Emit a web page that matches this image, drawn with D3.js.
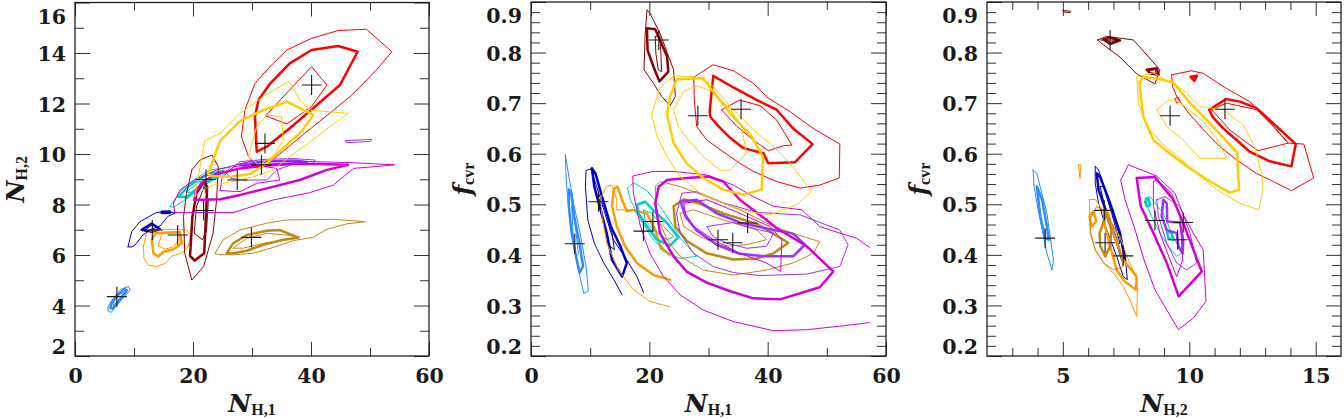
<!DOCTYPE html>
<html><head><meta charset="utf-8">
<script src="https://cdn.jsdelivr.net/npm/d3@7"></script>
<style>html,body{margin:0;padding:0;background:#fff}svg{display:block}</style>
</head><body>
<svg id="chart" width="1344" height="419"></svg>
<script>
// ---------------- DATA ----------------
const P1_X_TICKS = [0, 20, 40, 60];
const P1_X_LABELS = ["0", "20", "40", "60"];
const P1_X_MINOR = [10, 30, 50];
const P1_Y_TICKS = [2, 4, 6, 8, 10, 12, 14, 16];
const P1_Y_LABELS = ["2", "4", "6", "8", "10", "12", "14", "16"];
const P1_Y_MINOR = [3, 5, 7, 9, 11, 13, 15];
const P2_X_TICKS = [0, 20, 40, 60];
const P2_X_LABELS = ["0", "20", "40", "60"];
const P2_X_MINOR = [10, 30, 50];
const P3_X_TICKS = [5, 10, 15];
const P3_X_LABELS = ["5", "10", "15"];
const P3_X_MINOR = [3, 4, 6, 7, 8, 9, 11, 12, 13, 14];
const F_TICKS = [0.2, 0.3, 0.4, 0.5, 0.6, 0.7, 0.8, 0.9];
const F_LABELS = ["0.2", "0.3", "0.4", "0.5", "0.6", "0.7", "0.8", "0.9"];
const F_MINOR = [0.22,0.24,0.26,0.28,0.32,0.34,0.36,0.38,0.42,0.44,0.46,0.48,0.52,0.54,0.56,0.58,0.62,0.64,0.66,0.68,0.72,0.74,0.76,0.78,0.82,0.84,0.86,0.88];

const SERIES = ["lightblue","blue","orange","cyan","darkred","goldenrod","purple","magenta","red","gold"];
const COLORS = {lightblue:"#2a8cff", blue:"#0000cc", orange:"#ff9a00", cyan:"#00cccc", darkred:"#8b0000",
  red:"#ff0000", gold:"#ffcc00", magenta:"#d600d6", purple:"#9933ff", goldenrod:"#bf8a0f"};

// ---- Panel 1 : N_H,1 vs N_H,2 ----
const p1_lightblue = {
  inner: [[6.5,4.0],[7.6,4.3],[8.3,4.5],[7.5,4.45],[6.6,4.15]],
  mid: [[6.0,3.9],[6.4,3.88],[7.7,4.25],[8.8,4.6],[8.4,4.65],[7.4,4.45],[6.2,4.1]],
  outer: [[5.6,3.8],[6.1,3.72],[7.6,4.15],[9.3,4.6],[9.1,4.75],[7.8,4.65],[6.2,4.2],[5.6,3.95]]
};
const p1_blue = {
  inner: [[11.9,7.0],[13.1,7.2],[13.3,6.9]],
  mid: [[[11.3,7.0],[13.0,7.25],[14.4,7.02],[12.8,6.92]], [[14.7,7.66],[16.1,7.67],[16.1,7.72],[14.7,7.71]]],
  outer: [[8.98,6.32],[9.6,6.92],[11.0,7.32],[13.85,7.69],[17.2,7.69],[15.8,7.54],[14.4,7.15],[12.7,6.99],[11.5,6.79],[10.2,6.4],[9.7,6.32]]
};
const p1_orange = {
  inner: [[14.1,6.36],[14.7,6.83],[17.2,6.89],[17.8,6.67],[16.7,6.33],[15.3,6.23]],
  mid: [[13.0,6.6],[13.6,6.86],[15.5,6.89],[17.8,6.9],[18.1,6.46],[16.7,6.23],[15.0,6.13],[14.1,5.94],[13.3,6.07]],
  outer: [[11.6,6.33],[12.1,6.86],[13.8,6.99],[16.7,7.02],[18.9,6.99],[19.6,6.79],[19.2,6.33],[18.1,6.07],[16.4,5.96],[15.3,5.67],[13.8,5.54],[12.4,5.6],[11.7,5.87]]
};
const p1_cyan = {
  inner: [[18.9,8.51],[21.2,8.91],[23.4,9.1],[21.8,8.77],[19.8,8.42]],
  mid: [[17.5,8.31],[19.5,8.77],[22.3,9.17],[25.1,9.34],[24.0,9.08],[21.2,8.73],[18.9,8.29]],
  outer: [[16.1,7.92],[17.8,8.51],[20.1,8.97],[22.9,9.37],[26.3,9.47],[25.4,9.21],[22.9,8.91],[20.3,8.47],[18.4,8.14],[16.7,7.89]]
};
const p1_darkred = {
  inner: [[20.6,7.92],[21.9,8.71],[22.6,8.18],[22.3,6.98],[21.6,6.6],[20.2,6.86]],
  mid: [[19.5,5.97],[19.9,7.52],[20.6,8.44],[21.8,8.91],[22.4,8.71],[22.2,7.52],[21.9,6.07],[20.3,5.78]],
  outer: [[19.8,9.37],[21.2,9.76],[23.2,9.96],[24.3,9.5],[24.0,8.18],[23.4,6.86],[21.8,5.54],[19.8,5.01],[18.6,6.07],[18.4,7.52],[18.9,8.44]]
};
const p1_red = {
  inner: [[35.3,12.27],[40.1,13.46],[42.7,12.73],[40.1,11.88],[35.9,11.19],[32.3,11.51]],
  mid: [[30.5,11.48],[30.8,10.09],[32.5,10.29],[36.4,11.02],[40.7,11.88],[44.9,12.73],[47.9,14.05],[44.6,14.28],[40.1,14.12],[36.4,13.59],[33.1,12.8],[31.1,12.14]],
  outer: [[28.2,10.69],[29.4,9.9],[31.1,9.43],[34.2,9.9],[37.6,10.56],[40.7,11.15],[43.5,11.68],[46.6,12.27],[48.9,12.8],[51.1,13.33],[53.7,14.05],[49.4,14.94],[44.6,14.89],[40.1,14.58],[35.9,14.12],[32.5,13.33],[30.5,12.8],[28.8,11.74]]
};
const p1_gold = {
  inner: [[29.4,9.9],[30.8,11.08],[32.5,11.55],[35.0,11.48],[35.3,10.56],[33.6,9.9],[31.1,9.57]],
  mid: [[22.6,9.23],[24.6,10.52],[28.0,11.31],[31.9,11.74],[35.9,12.07],[40.4,11.55],[38.4,10.89],[35.3,10.23],[32.5,9.63],[29.7,9.21],[26.3,9.1],[22.9,9.13]],
  outer: [[20.3,8.31],[21.2,9.5],[22.0,10.52],[24.6,10.82],[28.0,11.61],[31.9,12.27],[36.2,12.87],[38.1,12.14],[39.8,11.74],[46.3,11.61],[43.2,11.08],[39.5,10.42],[36.4,9.9],[33.6,9.37],[30.2,9.1],[26.8,8.91],[23.4,8.77],[21.2,8.51]]
};
const p1_magenta = {
  inner: [[24.6,8.55],[28.0,8.51],[30.8,8.84],[34.7,8.97],[34.2,9.43],[30.2,9.57],[26.8,9.5],[24.9,9.04]],
  mid: [[20.2,8.18],[24.6,8.21],[28.0,8.38],[32.5,8.64],[38.1,8.97],[42.7,9.37],[46.3,9.57],[41.5,9.6],[37.0,9.6],[31.9,9.53],[28.0,9.43],[24.0,9.21],[21.5,8.87],[20.5,8.51]],
  outer: [[16.9,7.68],[26.8,7.68],[33.6,8.18],[39.8,8.47],[43.8,8.77],[47.2,9.43],[54.2,9.57],[46.6,9.66],[38.1,9.71],[29.7,9.71],[24.0,9.37],[20.3,8.97],[17.8,8.58],[16.7,8.05]]
};
const p1_purple = {
  mid: [[28.0,9.57],[32.5,9.7],[37.0,9.74],[39.3,9.68],[37.0,9.63],[32.5,9.57],[29.1,9.5]],
  outer: [[[25.7,9.24],[28.0,9.7],[32.5,9.79],[37.0,9.82],[40.7,9.76],[40.4,9.63],[37.0,9.6],[34.2,9.37],[32.5,8.97],[28.5,8.97],[26.3,9.04]],
          [[45.8,10.53],[50.3,10.58],[50.1,10.5],[46.0,10.45]]]
};
const p1_goldenrod = {
  inner: [[26.8,6.27],[29.1,6.66],[32.5,6.86],[35.9,6.79],[38.1,6.7],[35.3,6.6],[31.9,6.46],[28.5,6.27]],
  mid: [[25.7,6.07],[26.8,6.46],[29.1,6.79],[32.5,6.96],[34.7,6.99],[37.9,6.69],[34.7,6.57],[31.9,6.4],[29.1,6.17],[26.8,6.07]],
  outer: [[23.7,6.06],[25.1,6.6],[28.0,6.99],[32.5,7.26],[35.9,7.39],[43.8,7.41],[49.2,7.32],[46.0,7.23],[42.7,7.02],[40.4,6.7],[37.0,6.57],[33.6,6.3],[30.2,6.07],[26.8,6.01],[24.6,6.01]]
};
const p1_best = [[7.1,4.35],[13.1,6.99],[17.4,6.79],[22.2,8.99],[21.8,7.76],[27.5,8.97],[31.6,9.57],[32.2,10.42],[40.1,12.73],[29.9,6.7]];

// ---- Panel 2 : N_H,1 vs f_cvr ----
const p2_lightblue = {
  inner: [[6.9,0.496],[7.5,0.456],[8.0,0.403],[7.6,0.397],[7.1,0.443]],
  mid: [[6.4,0.529],[6.8,0.522],[7.3,0.476],[8.2,0.423],[8.8,0.377],[8.2,0.365],[7.5,0.403],[6.8,0.449],[6.4,0.496]],
  outer: [[5.8,0.598],[6.5,0.548],[7.3,0.496],[8.3,0.443],[9.3,0.377],[9.7,0.328],[8.9,0.324],[7.9,0.377],[6.9,0.443],[6.2,0.509],[5.9,0.561]]
};
const p2_blue = {
  inner: [[11.6,0.509],[12.3,0.499],[13.7,0.443],[14.1,0.41],[13.1,0.42],[12.2,0.469]],
  mid: [[10.3,0.571],[10.7,0.535],[11.6,0.496],[12.8,0.443],[13.7,0.39],[15.4,0.357],[16.2,0.384],[15.1,0.417],[13.5,0.456],[12.0,0.515],[10.9,0.561]],
  outerOpen: [[15.4,0.321],[14.0,0.351],[12.3,0.384],[10.7,0.423],[9.6,0.469],[9.2,0.535],[9.3,0.567],[10.1,0.57],[11.1,0.535],[12.5,0.482],[13.9,0.43],[16.2,0.39],[17.9,0.357],[19.0,0.326]]
};
const p2_orange = {
  midOpen: [[23.5,0.351],[20.7,0.36],[17.9,0.384],[15.9,0.417],[14.5,0.456],[13.7,0.496],[14.0,0.53],[14.6,0.535],[15.4,0.509],[16.2,0.486],[17.2,0.489],[19.6,0.482],[21.0,0.449],[21.9,0.413],[23.5,0.4]],
  outerOpen: [[23.5,0.297],[20.1,0.308],[17.3,0.331],[14.8,0.37],[12.8,0.423],[12.0,0.476],[11.8,0.512],[12.7,0.535],[13.7,0.538],[14.5,0.509],[14.5,0.489],[17.3,0.489],[20.7,0.443],[23.0,0.403],[23.5,0.397]]
};
const p2_cyan = {
  inner: [[19.0,0.489],[20.4,0.482],[22.4,0.456],[24.1,0.436],[23.0,0.43],[20.7,0.449],[19.3,0.469]],
  mid: [[17.9,0.499],[19.3,0.505],[20.7,0.488],[23.0,0.463],[24.9,0.435],[23.5,0.418],[21.3,0.43],[19.6,0.456],[18.2,0.482]],
  outer: [[16.3,0.532],[17.3,0.543],[19.6,0.527],[21.8,0.496],[24.1,0.456],[25.2,0.433],[28.0,0.397],[25.2,0.393],[23.0,0.405],[20.7,0.43],[18.5,0.469],[16.8,0.509]]
};
const p2_darkred = {
  inner: [[21.0,0.832],[21.8,0.832],[22.1,0.762],[21.5,0.766],[21.1,0.799]],
  mid: [[19.6,0.848],[21.0,0.846],[23.0,0.792],[23.2,0.762],[21.7,0.743],[20.7,0.772],[19.7,0.805]],
  outer: [[19.6,0.884],[20.1,0.878],[21.8,0.838],[24.1,0.766],[24.4,0.713],[23.5,0.695],[22.1,0.713],[20.7,0.739],[19.1,0.766],[19.3,0.838]]
};
const p2_gold = {
  inner: [[24.1,0.687],[25.8,0.723],[28.0,0.734],[30.8,0.723],[33.7,0.687],[35.6,0.654],[36.4,0.601],[33.7,0.568],[32.0,0.567],[29.1,0.594],[26.6,0.627],[24.9,0.654]],
  mid: [[23.0,0.677],[23.5,0.713],[24.6,0.747],[29.1,0.749],[31.4,0.713],[34.2,0.673],[37.3,0.634],[39.2,0.594],[39.0,0.529],[35.9,0.519],[32.5,0.529],[29.1,0.552],[26.3,0.581],[24.1,0.621]],
  outer: [[20.4,0.677],[21.8,0.731],[24.1,0.754],[27.7,0.752],[30.3,0.739],[33.7,0.693],[37.6,0.647],[41.0,0.614],[43.8,0.581],[47.4,0.525],[44.9,0.499],[40.4,0.479],[36.5,0.486],[32.5,0.502],[28.6,0.522],[25.2,0.555],[23.0,0.594],[21.3,0.634]]
};
const p2_red = {
  inner: [[32.2,0.687],[35.3,0.706],[38.7,0.695],[41.5,0.667],[44.1,0.617],[42.7,0.616],[40.1,0.606],[37.6,0.627],[34.8,0.654]],
  mid: [[30.2,0.683],[30.8,0.754],[34.2,0.731],[38.2,0.706],[41.5,0.687],[44.3,0.65],[47.6,0.619],[44.6,0.583],[40.1,0.581],[39.3,0.601],[35.9,0.611],[33.7,0.631],[31.7,0.654],[30.3,0.673]],
  outer: [[27.5,0.751],[30.8,0.776],[34.2,0.764],[37.6,0.739],[40.1,0.71],[43.8,0.683],[47.7,0.65],[52.2,0.619],[52.1,0.552],[48.8,0.538],[45.5,0.532],[41.5,0.545],[37.6,0.565],[35.3,0.581],[32.0,0.608],[29.7,0.627],[28.0,0.654],[27.6,0.706]]
};
const p2_magenta = {
  inner: [[25.8,0.502],[29.7,0.509],[35.3,0.482],[40.4,0.456],[42.4,0.43],[42.2,0.367],[39.8,0.384],[35.3,0.403],[30.8,0.43],[27.5,0.456],[26.1,0.482]],
  mid: [[23.0,0.548],[26.3,0.552],[30.0,0.555],[32.5,0.545],[35.3,0.509],[38.7,0.479],[41.5,0.453],[46.6,0.417],[51.1,0.367],[48.8,0.336],[46.6,0.328],[42.1,0.312],[37.6,0.314],[33.7,0.328],[29.7,0.345],[26.3,0.367],[24.1,0.397],[21.8,0.443],[21.0,0.502],[21.6,0.535]],
  outerOpen: [[57.2,0.415],[55.0,0.433],[52.2,0.443],[48.8,0.456],[45.8,0.489],[41.0,0.496],[37.6,0.515],[34.2,0.538],[29.7,0.558],[24.1,0.565],[20.7,0.565],[17.2,0.556],[17.3,0.522],[18.5,0.456],[20.1,0.403],[22.4,0.357],[25.2,0.321],[29.1,0.291],[34.2,0.268],[41.0,0.25],[46.6,0.252],[52.2,0.259],[57.2,0.266]]
};
const p2_purple = {
  inner: [[29.7,0.456],[34.2,0.464],[38.7,0.449],[41.0,0.443],[39.8,0.417],[36.5,0.413],[33.1,0.423],[30.8,0.436]],
  mid: [[25.3,0.505],[28.0,0.509],[31.4,0.482],[35.3,0.464],[41.0,0.449],[44.3,0.442],[46.3,0.42],[44.3,0.397],[39.8,0.397],[35.3,0.402],[31.4,0.42],[28.0,0.448],[26.1,0.476]],
  outer: [[24.6,0.482],[25.5,0.522],[28.0,0.525],[32.5,0.503],[38.2,0.484],[45.5,0.479],[52.2,0.449],[53.6,0.42],[52.2,0.377],[46.6,0.362],[38.7,0.359],[34.2,0.365],[30.8,0.377],[27.5,0.403],[25.2,0.443]]
};
const p2_goldenrod = {
  inner: [[25.2,0.482],[27.5,0.489],[32.5,0.469],[38.2,0.449],[39.8,0.43],[36.5,0.42],[32.5,0.417],[28.6,0.436],[25.8,0.456]],
  mid: [[24.1,0.496],[25.8,0.51],[28.6,0.501],[32.5,0.482],[38.2,0.461],[43.5,0.424],[41.0,0.403],[38.2,0.393],[34.2,0.391],[29.7,0.403],[26.3,0.428],[24.4,0.456]],
  outer: [[21.0,0.535],[21.8,0.545],[25.2,0.535],[29.7,0.515],[35.3,0.489],[41.0,0.456],[45.5,0.438],[48.8,0.426],[47.7,0.403],[44.3,0.384],[39.8,0.37],[34.2,0.36],[29.1,0.37],[25.2,0.397],[23.0,0.43],[21.3,0.476]]
};
const p2_best = [[7.4,0.422],[11.4,0.505],[19.0,0.447],[20.6,0.466],[21.6,0.825],[28.2,0.675],[35.5,0.688],[31.6,0.43],[34.1,0.424],[36.6,0.463]];

// ---- Panel 3 : N_H,2 vs f_cvr ----
const p3_lightblue = {
  mid: [[3.97,0.535],[4.18,0.509],[4.37,0.456],[4.44,0.43],[4.3,0.433],[4.11,0.476]],
  outer: [[3.82,0.568],[3.97,0.561],[4.37,0.482],[4.63,0.39],[4.57,0.37],[4.37,0.403],[4.05,0.482],[3.86,0.535]]
};
const p3_blue = {
  inner: [[6.47,0.535],[6.61,0.535],[6.93,0.482],[7.26,0.423],[7.13,0.42],[6.8,0.469]],
  mid: [[6.34,0.561],[6.47,0.555],[6.87,0.502],[7.26,0.443],[7.46,0.39],[7.33,0.393],[7.07,0.436],[6.74,0.482],[6.41,0.529]],
  outer: [[6.28,0.575],[6.41,0.568],[6.74,0.519],[7.13,0.456],[7.46,0.403],[7.55,0.351],[7.39,0.357],[7.13,0.397],[6.74,0.449],[6.41,0.502],[6.28,0.542]]
};
const p3_orange = {
  mid: [[[6.61,0.489],[6.8,0.482],[7.0,0.443],[7.39,0.39],[7.92,0.357],[7.89,0.331],[7.46,0.347],[7.13,0.37],[6.87,0.417],[6.67,0.456]],
        [[6.05,0.476],[6.21,0.486],[6.32,0.466],[6.14,0.456]]],
  outer: [[[6.05,0.509],[6.28,0.51],[6.74,0.476],[7.26,0.436],[7.59,0.39],[7.89,0.357],[7.95,0.331],[7.92,0.278],[7.68,0.308],[7.39,0.338],[7.0,0.364],[6.61,0.384],[6.28,0.41],[6.08,0.449]],
          [[5.62,0.578],[5.72,0.578],[5.68,0.551]]]
};
const p3_goldenrod = {
  mid: [[6.55,0.456],[6.71,0.482],[6.92,0.449],[6.87,0.417],[6.68,0.397],[6.48,0.417],[6.45,0.443]],
  outer: [[6.08,0.469],[6.34,0.496],[6.74,0.482],[7.13,0.443],[7.26,0.403],[7.39,0.377],[7.0,0.37],[6.61,0.384],[6.28,0.41],[6.08,0.443]]
};
const p3_cyan = {
  mid: [[[8.25,0.505],[8.38,0.512],[8.45,0.499],[8.32,0.496]], [[9.11,0.449],[9.3,0.443],[9.37,0.43],[9.17,0.433]]],
  outer: [[8.25,0.512],[8.45,0.515],[8.97,0.482],[9.3,0.443],[9.7,0.403],[9.5,0.397],[9.17,0.417],[8.84,0.443],[8.51,0.476],[8.29,0.502]]
};
const p3_magenta = {
  inner: [[8.58,0.545],[8.71,0.548],[9.3,0.522],[9.63,0.476],[9.74,0.39],[9.5,0.357],[9.24,0.39],[8.84,0.443],[8.58,0.496]],
  mid: [[7.92,0.552],[8.64,0.554],[9.37,0.509],[9.76,0.463],[10.49,0.367],[9.58,0.318],[9.11,0.384],[8.58,0.443],[8.08,0.496]],
  outer: [[7.29,0.548],[7.59,0.578],[8.71,0.556],[9.43,0.522],[9.74,0.482],[10.16,0.443],[10.55,0.41],[10.66,0.308],[10.16,0.275],[9.57,0.252],[9.11,0.291],[8.64,0.331],[8.21,0.39],[7.86,0.449],[7.46,0.509]]
};
const p3_purple = {
  mid: [[8.97,0.509],[9.11,0.502],[9.13,0.466],[9.63,0.464],[9.76,0.43],[9.74,0.403],[9.57,0.417],[9.5,0.443],[9.11,0.449],[8.91,0.476]],
  outer: [[8.71,0.509],[9.04,0.515],[9.63,0.496],[10.03,0.443],[10.29,0.384],[9.89,0.37],[9.5,0.384],[9.11,0.423],[8.78,0.476]]
};
const p3_darkred = {
  inner: [[[6.7,0.826],[6.9,0.829],[7.1,0.825],[6.9,0.82]], [[8.4,0.764],[8.65,0.766],[8.7,0.758],[8.45,0.76]]],
  mid: [[[6.61,0.826],[6.87,0.83],[7.26,0.824],[6.87,0.817]], [[8.32,0.766],[8.71,0.769],[8.79,0.756],[8.45,0.759]]],
  outer: [[[6.37,0.825],[6.74,0.832],[7.79,0.825],[8.84,0.766],[8.64,0.738],[7.92,0.758],[7.26,0.791],[6.61,0.815]],
          [[5.0,0.883],[5.29,0.882],[5.29,0.879],[5.05,0.880]]]
};
const p3_red = {
  inner: [[[10.88,0.687],[11.47,0.7],[12.66,0.687],[13.32,0.654],[13.91,0.621],[12.72,0.606],[12.13,0.627],[11.61,0.647]],
          [[9.43,0.708],[9.55,0.712],[9.62,0.705],[9.5,0.7]]],
  mid: [[[10.79,0.687],[11.45,0.708],[12.0,0.703],[12.66,0.69],[13.45,0.654],[14.21,0.619],[14.04,0.575],[13.18,0.585],[12.39,0.604],[11.87,0.627],[11.34,0.65],[10.92,0.673]],
        [[10.05,0.752],[10.3,0.754],[10.2,0.744]]],
  outer: [[9.3,0.756],[10.09,0.764],[10.55,0.759],[11.47,0.729],[12.39,0.703],[13.12,0.667],[13.91,0.621],[14.53,0.619],[14.92,0.552],[14.04,0.527],[13.32,0.545],[12.66,0.561],[11.87,0.588],[11.21,0.614],[10.62,0.644],[10.03,0.677],[9.53,0.71],[9.34,0.733]]
};
const p3_gold = {
  inner: [[8.71,0.687],[9.18,0.706],[9.5,0.706],[10.49,0.667],[11.14,0.627],[11.47,0.591],[10.42,0.591],[9.76,0.627],[9.11,0.654]],
  mid: [[8.03,0.739],[8.18,0.752],[8.78,0.748],[9.37,0.741],[10.03,0.7],[10.82,0.66],[11.89,0.602],[11.97,0.529],[11.61,0.523],[10.82,0.545],[10.03,0.571],[9.24,0.6],[8.58,0.627],[8.18,0.673]],
  outer: [[7.92,0.752],[8.58,0.76],[9.76,0.726],[10.42,0.693],[11.34,0.687],[12.13,0.657],[12.59,0.614],[12.86,0.561],[12.92,0.532],[12.76,0.489],[12.0,0.502],[11.21,0.525],[10.42,0.555],[9.63,0.591],[8.91,0.621],[8.32,0.654],[7.99,0.7]]
};
const p3_best = [[6.87,0.825],[9.24,0.675],[11.41,0.688],[4.3,0.433],[6.64,0.488],[6.67,0.424],[7.39,0.398],[8.64,0.468],[9.76,0.464],[9.54,0.43]];

// ---------------- DRAWING ----------------
const svg = d3.select("#chart");
const NUM_FONT = "'DejaVu Serif', serif";

const panels = [
  {id:1, xDomain:[0,60], yDomain:[2,16], left:75, right:429, top:2.5, bottom:356,
   xTicks:P1_X_TICKS, xLabels:P1_X_LABELS, xMinor:P1_X_MINOR, yTicks:P1_Y_TICKS, yLabels:P1_Y_LABELS, yMinor:P1_Y_MINOR,
   series:{lightblue:p1_lightblue, blue:p1_blue, orange:p1_orange, cyan:p1_cyan, darkred:p1_darkred, goldenrod:p1_goldenrod, purple:p1_purple, magenta:p1_magenta, red:p1_red, gold:p1_gold},
   best:p1_best, xTitle:["N","H,1"], yTitle:["N","H,2"], yTitleX:24},
  {id:2, xDomain:[0,60], yDomain:[0.2,0.9], left:531, right:886, top:2, bottom:356,
   xTicks:P2_X_TICKS, xLabels:P2_X_LABELS, xMinor:P2_X_MINOR, yTicks:F_TICKS, yLabels:F_LABELS, yMinor:F_MINOR,
   series:{lightblue:p2_lightblue, blue:p2_blue, orange:p2_orange, cyan:p2_cyan, darkred:p2_darkred, goldenrod:p2_goldenrod, purple:p2_purple, magenta:p2_magenta, red:p2_red, gold:p2_gold},
   best:p2_best, xTitle:["N","H,1"], yTitle:["f","cvr"], yTitleX:471},
  {id:3, xDomain:[2,16], yDomain:[0.2,0.9], left:987, right:1341, top:2, bottom:356,
   xTicks:P3_X_TICKS, xLabels:P3_X_LABELS, xMinor:P3_X_MINOR, yTicks:F_TICKS, yLabels:F_LABELS, yMinor:F_MINOR,
   series:{lightblue:p3_lightblue, blue:p3_blue, orange:p3_orange, cyan:p3_cyan, darkred:p3_darkred, goldenrod:p3_goldenrod, purple:p3_purple, magenta:p3_magenta, red:p3_red, gold:p3_gold},
   best:p3_best, xTitle:["N","H,2"], yTitle:["f","cvr"], yTitleX:927}
];

function asRings(v){ return (typeof v[0][0] === "number") ? [v] : v; }

const LEVELS = [["outer",false,1.0],["outerOpen",true,1.0],["mid",false,2.5],["midOpen",true,2.5],["inner",false,1.0]];

panels.forEach(p => {
  const x = d3.scaleLinear().domain(p.xDomain).range([p.left, p.right]);
  const y = d3.scaleLinear().domain(p.yDomain).range([p.bottom, p.top]);
  const g = svg.append("g");
  const clipId = "clip" + p.id;
  svg.append("clipPath").attr("id", clipId).append("rect")
    .attr("x", p.left).attr("y", p.top).attr("width", p.right - p.left).attr("height", p.bottom - p.top);
  const cg = g.append("g").attr("clip-path", `url(#${clipId})`);
  const line = d3.line().x(d => x(d[0])).y(d => y(d[1]));

  SERIES.forEach(name => {
    const s = p.series[name]; if (!s) return;
    LEVELS.forEach(([key, open, w]) => {
      if (!s[key]) return;
      asRings(s[key]).forEach(r => {
        const pts = open ? r : r.concat([r[0]]);
        cg.append("path").attr("d", line(pts)).attr("fill", "none")
          .attr("stroke", COLORS[name]).attr("stroke-width", w)
          .attr("stroke-linejoin", "round").attr("stroke-linecap", "round");
      });
    });
  });

  // best-fit crosses
  cg.selectAll("path.best").data(p.best).enter().append("path").attr("class", "best")
    .attr("d", d => { const px = x(d[0]), py = y(d[1]); return `M${px-10},${py}H${px+10}M${px},${py-10}V${py+10}`; })
    .attr("stroke", "#1a1a1a").attr("stroke-width", 1.1).attr("fill", "none");

  // axes (ticks inward on all four sides)
  function mkAxis(fn, scale, vals, len, fmt, tr, pad) {
    const a = fn(scale).tickValues(vals).tickSizeInner(-len).tickSizeOuter(0).tickPadding(pad).tickFormat(fmt);
    const sel = g.append("g").attr("transform", tr).call(a);
    sel.select(".domain").remove();
    sel.selectAll("line").attr("stroke", "#333").attr("stroke-width", 1);
    sel.attr("font-family", NUM_FONT).attr("font-size", 20.5).attr("font-weight", "bold");
    sel.selectAll("text").attr("fill", "#1a1a1a");
    return sel;
  }
  const none = () => "";
  mkAxis(d3.axisBottom, x, p.xTicks, 14, (d,i) => p.xLabels[i], `translate(0,${p.bottom})`, 12);
  mkAxis(d3.axisBottom, x, p.xMinor, 8, none, `translate(0,${p.bottom})`, 0);
  mkAxis(d3.axisTop, x, p.xTicks, 14, none, `translate(0,${p.top})`, 0);
  mkAxis(d3.axisTop, x, p.xMinor, 8, none, `translate(0,${p.top})`, 0);
  const yl = mkAxis(d3.axisLeft, y, p.yTicks, 15, (d,i) => p.yLabels[i], `translate(${p.left},0)`, 9);
  const ymax = d3.max(p.yTicks), ymin = d3.min(p.yTicks);
  yl.selectAll("text").attr("dy", d => d === ymax ? "1.0em" : (d === ymin ? "-0.1em" : "0.37em"));
  mkAxis(d3.axisLeft, y, p.yMinor, 9, none, `translate(${p.left},0)`, 0);
  mkAxis(d3.axisRight, y, p.yTicks, 15, none, `translate(${p.right},0)`, 0);
  mkAxis(d3.axisRight, y, p.yMinor, 9, none, `translate(${p.right},0)`, 0);

  // frame
  g.append("rect").attr("x", p.left).attr("y", p.top).attr("width", p.right - p.left).attr("height", p.bottom - p.top)
    .attr("fill", "none").attr("stroke", "#111").attr("stroke-width", 1.2);

  // axis titles
  const cx = (p.left + p.right) / 2, cy = (p.top + p.bottom) / 2;
  const xt = g.append("text").attr("x", cx).attr("y", 412).attr("text-anchor", "middle").attr("fill", "#1a1a1a");
  xt.append("tspan").text(p.xTitle[0]).attr("font-family", NUM_FONT).attr("font-style", "italic").attr("font-weight", "bold").attr("font-size", 25);
  xt.append("tspan").text(p.xTitle[1]).attr("font-family", "'Liberation Serif', serif").attr("font-weight", "bold").attr("font-size", 16).attr("dy", 3);
  const yt = g.append("text").attr("transform", `translate(${p.yTitleX},${cy}) rotate(-90)`).attr("text-anchor", "middle").attr("fill", "#1a1a1a");
  yt.append("tspan").text(p.yTitle[0]).attr("font-family", NUM_FONT).attr("font-style", "italic").attr("font-weight", "bold").attr("font-size", 24);
  yt.append("tspan").text(p.yTitle[1]).attr("font-family", "'Liberation Serif', serif").attr("font-weight", "bold").attr("font-size", 16).attr("dy", 3);
});
</script>
</body></html>
